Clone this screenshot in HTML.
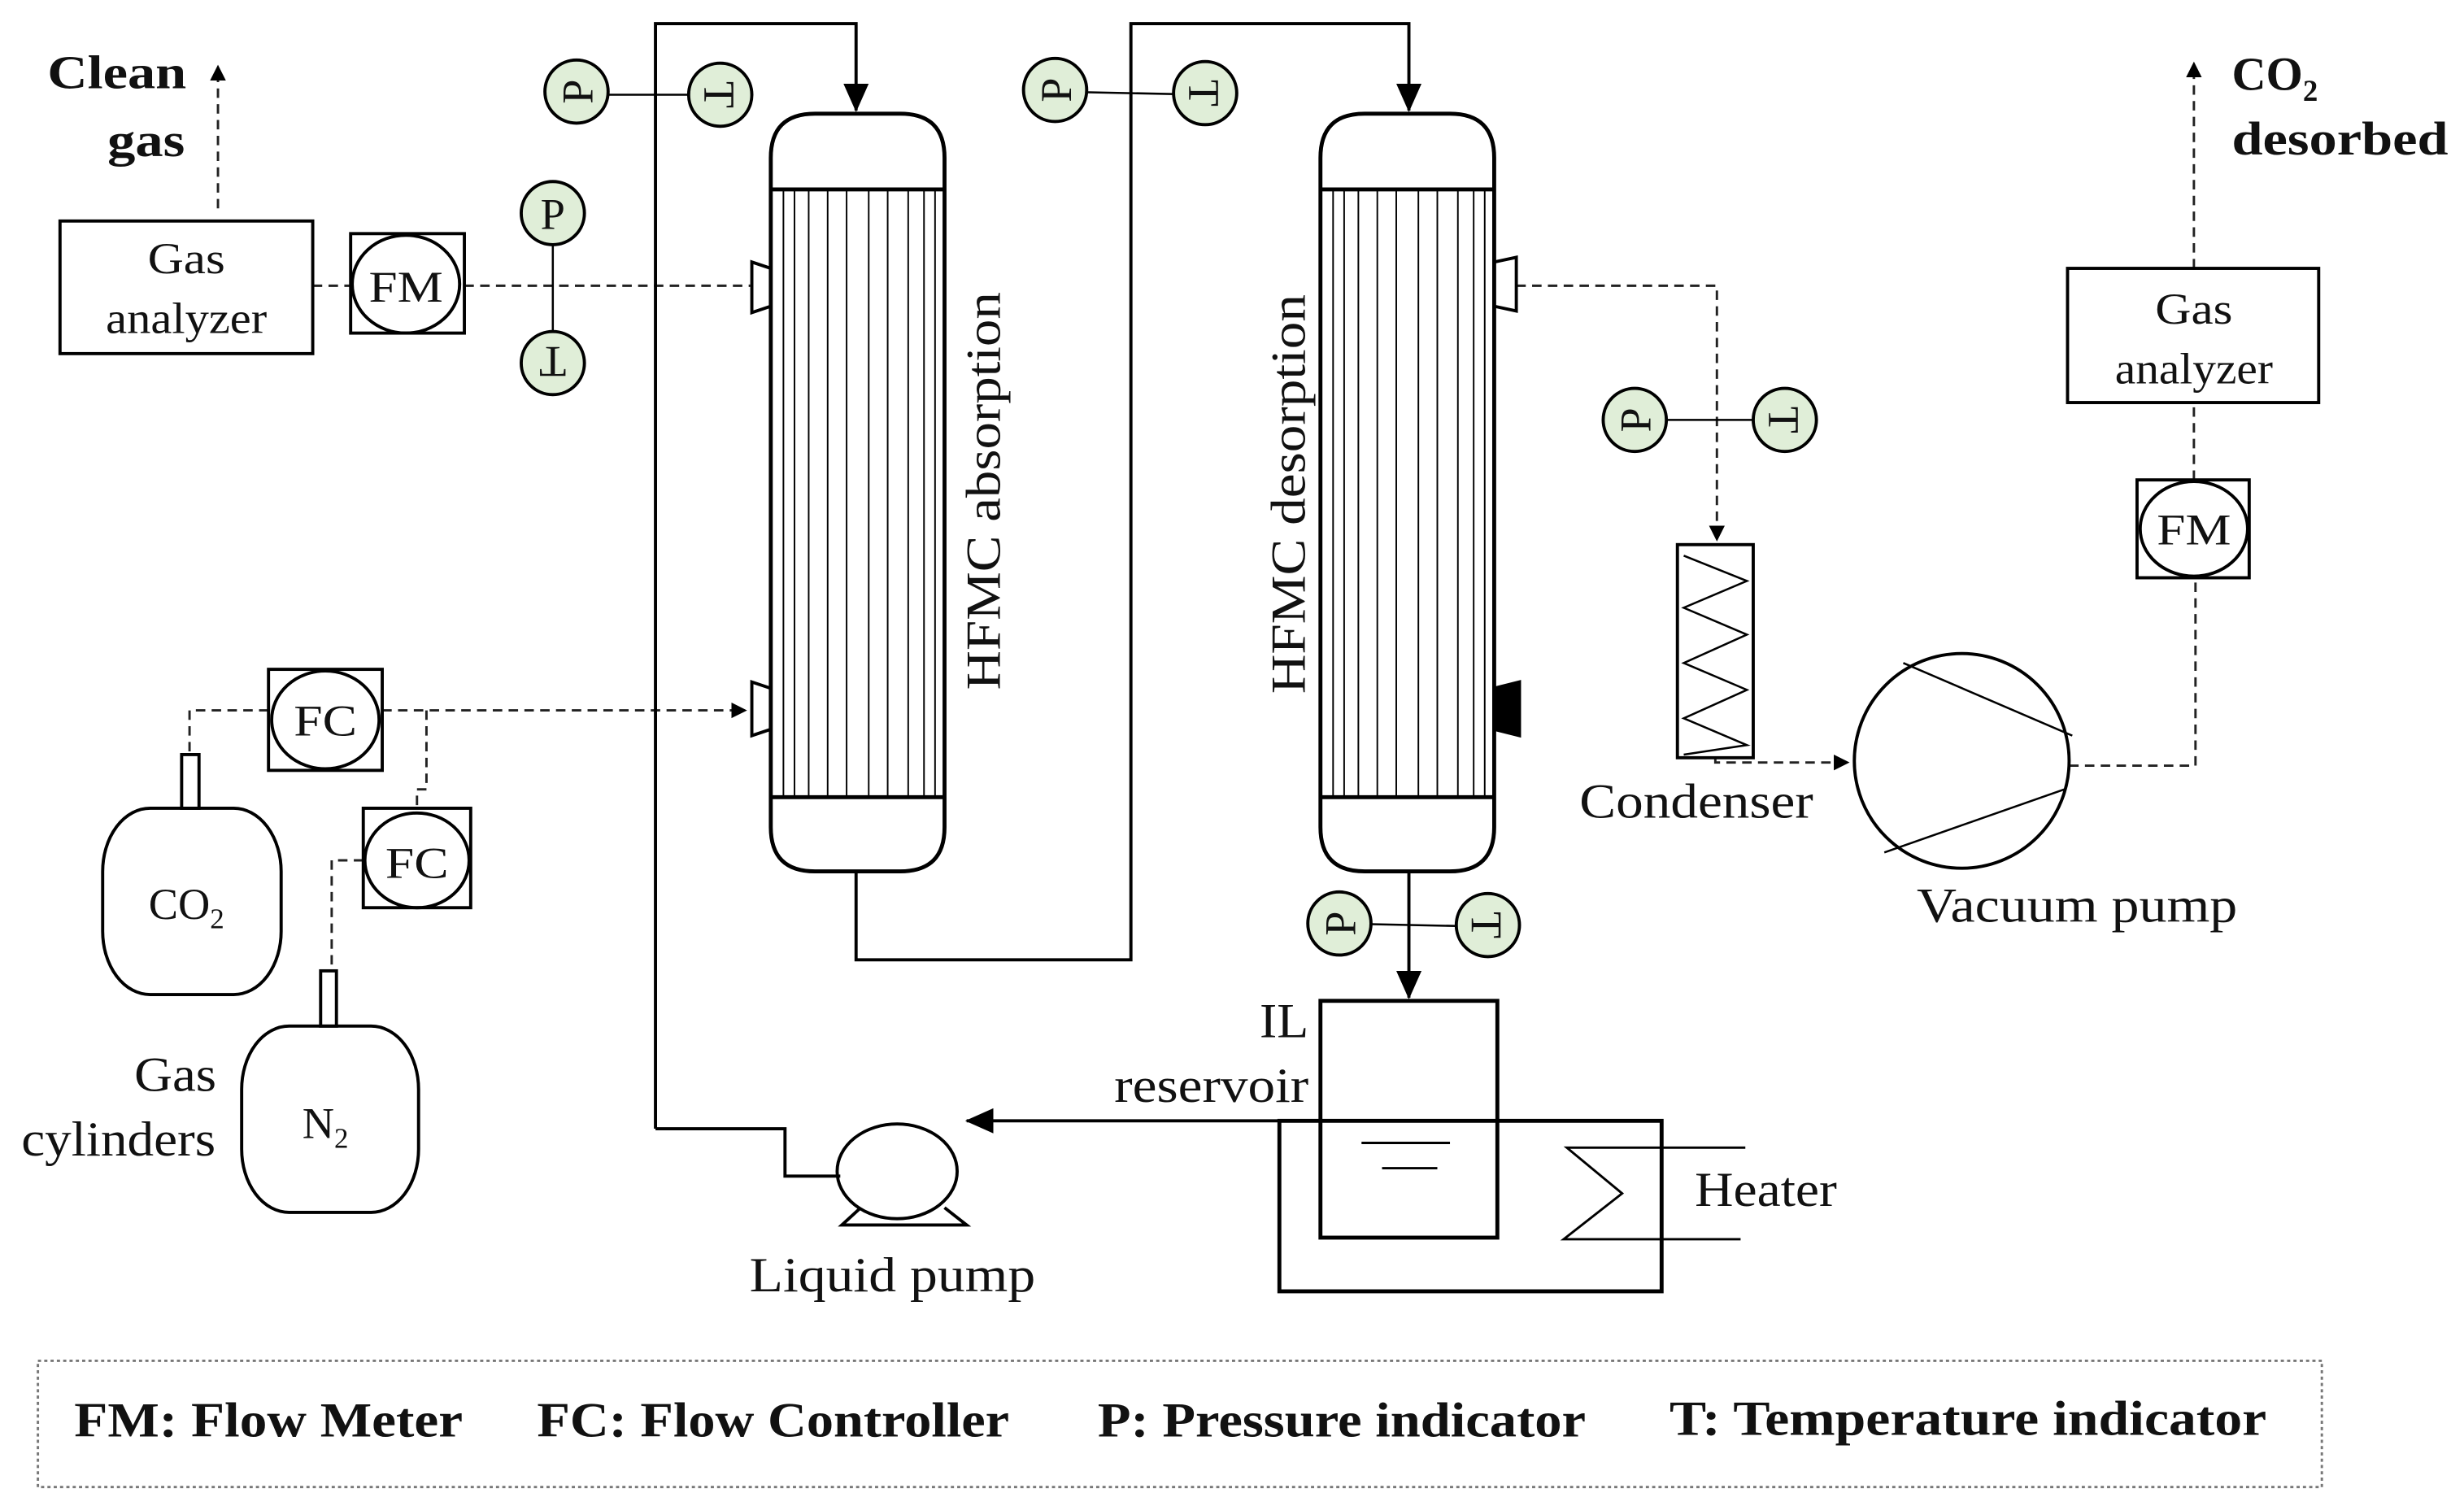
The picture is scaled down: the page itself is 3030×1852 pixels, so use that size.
<!DOCTYPE html>
<html><head><meta charset="utf-8"><style>
html,body{margin:0;padding:0;background:#fff;}
svg{display:block;}
text{font-family:"Liberation Serif",serif;fill:#111;}
.b{font-weight:bold;}
</style></head><body>
<svg width="3030" height="1852" viewBox="0 0 1560 954" preserveAspectRatio="none" xmlns="http://www.w3.org/2000/svg">
<defs>
<marker id="ar" markerWidth="10" markerHeight="10" refX="9" refY="5" orient="auto" markerUnits="userSpaceOnUse"><path d="M0,0 L10,5 L0,10 Z" fill="#000"/></marker>
<marker id="ab" markerWidth="18" markerHeight="16" refX="17" refY="8" orient="auto" markerUnits="userSpaceOnUse"><path d="M0,0 L18,8 L0,16 Z" fill="#000"/></marker>
</defs>
<rect width="1560" height="954" fill="#fff"/>
<g fill="none" stroke="#222" stroke-width="1.5" stroke-dasharray="6,4">
<line x1="138" y1="132" x2="138" y2="42" marker-end="url(#ar)"/>
<line x1="198" y1="181" x2="222" y2="181"/>
<line x1="294" y1="181" x2="475" y2="181"/>
<polyline points="960,181 1087,181 1087,342" marker-end="url(#ar)"/>
<polyline points="1086,480 1086,483 1170,483" marker-end="url(#ar)"/>
<polyline points="1310,485 1390,485 1390,366"/>
<line x1="1389" y1="304" x2="1389" y2="255"/>
<line x1="1389" y1="170" x2="1389" y2="40" marker-end="url(#ar)"/>
<line x1="242" y1="450" x2="472" y2="450" marker-end="url(#ar)"/>
<polyline points="170,450 120,450 120,478"/>
<polyline points="270,450 270,500 264,500 264,512"/>
<polyline points="230,545 210,545 210,615"/>
</g>
<g fill="none" stroke="#000" stroke-width="2">
<polyline points="415,715 415,15 542,15 542,70" marker-end="url(#ab)"/>
<polyline points="415,715 497,715 497,745 532,745"/>
<polyline points="542,552 542,608 716,608 716,15 892,15 892,70" marker-end="url(#ab)"/>
<line x1="892" y1="552" x2="892" y2="632" marker-end="url(#ab)"/>
<line x1="836" y1="710" x2="612" y2="710" marker-end="url(#ab)"/>
</g>
<g stroke="#000" stroke-width="1.3">
<line x1="365" y1="60" x2="456" y2="60"/>
<line x1="668" y1="58" x2="763" y2="60"/>
<line x1="350" y1="135" x2="350" y2="230"/>
<line x1="1035" y1="266" x2="1130" y2="266"/>
<line x1="848" y1="585" x2="942" y2="587"/>
</g>
<g fill="none" stroke="#000" stroke-width="2">
<rect x="38" y="140" width="160" height="84"/>
<rect x="222" y="148" width="72" height="63"/>
<ellipse cx="257" cy="180" rx="34" ry="31"/>
<rect x="1309" y="170" width="159" height="85"/>
<rect x="1353" y="304" width="71" height="62"/>
<ellipse cx="1389" cy="335" rx="34" ry="30"/>
<rect x="170" y="424" width="72" height="64"/>
<ellipse cx="206" cy="456" rx="34" ry="31"/>
<rect x="230" y="512" width="68" height="63"/>
<ellipse cx="264" cy="545" rx="33" ry="30"/>
<rect x="115" y="478" width="11" height="34"/>
<rect x="65" y="512" width="113" height="118" rx="30" ry="40"/>
<rect x="203" y="615" width="10" height="35"/>
<rect x="153" y="650" width="112" height="118" rx="30" ry="40"/>
<path d="M488,524 V100 Q488,72 516,72 H570 Q598,72 598,100 V524 Q598,552 570,552 H516 Q488,552 488,524 Z" stroke-width="2.5"/>
<line x1="488" y1="120" x2="598" y2="120" stroke-width="2.5"/>
<line x1="488" y1="505" x2="598" y2="505" stroke-width="2.5"/>
<path d="M836,524 V100 Q836,72 864,72 H918 Q946,72 946,100 V524 Q946,552 918,552 H864 Q836,552 836,524 Z" stroke-width="2.5"/>
<line x1="836" y1="120" x2="946" y2="120" stroke-width="2.5"/>
<line x1="836" y1="505" x2="946" y2="505" stroke-width="2.5"/>
<path d="M488,170 L476,166 V198 L488,194 Z"/>
<path d="M488,436 L476,432 V466 L488,462 Z"/>
<path d="M946,166 L960,163 V197 L946,194 Z"/>
<path d="M946,436 L962,432 V466 L946,462 Z" fill="#000"/>
<rect x="1062" y="345" width="48" height="135"/>
<polyline points="1066,352 1106,368 1066,385 1106,402 1066,420 1106,437 1066,455 1106,472 1066,478" stroke-width="1.3"/>
<circle cx="1242" cy="482" r="68"/>
<line x1="1205" y1="420" x2="1312" y2="466" stroke-width="1.3"/>
<line x1="1193" y1="540" x2="1307" y2="500" stroke-width="1.3"/>
<rect x="836" y="634" width="112" height="150" stroke-width="2.5"/>
<rect x="810" y="710" width="242" height="108" stroke-width="2.5"/>
<line x1="862" y1="724" x2="918" y2="724" stroke-width="1.5"/>
<line x1="875" y1="740" x2="910" y2="740" stroke-width="1.5"/>
<polyline points="1105,727 992,727 1027,756 990,785 1102,785" stroke-width="1.5"/>
<ellipse cx="568" cy="742" rx="38" ry="30"/>
<path d="M545,765 L533,776 H612 L598,765" />
</g>
<g stroke="#000" stroke-width="1">
<g id="fib">
<line x1="496" y1="120" x2="496" y2="505"/><line x1="503" y1="120" x2="503" y2="505"/>
<line x1="512" y1="120" x2="512" y2="505"/><line x1="524" y1="120" x2="524" y2="505"/>
<line x1="536" y1="120" x2="536" y2="505"/><line x1="550" y1="120" x2="550" y2="505"/>
<line x1="562" y1="120" x2="562" y2="505"/><line x1="575" y1="120" x2="575" y2="505"/>
<line x1="585" y1="120" x2="585" y2="505"/><line x1="592" y1="120" x2="592" y2="505"/>
</g>
<use href="#fib" transform="translate(348,0)"/>
</g>
<g stroke="#000" stroke-width="2" fill="#e0eed8">
<circle cx="365" cy="58" r="20"/><circle cx="456" cy="60" r="20"/>
<circle cx="668" cy="57" r="20"/><circle cx="763" cy="59" r="20"/>
<circle cx="350" cy="135" r="20"/><circle cx="350" cy="230" r="20"/>
<circle cx="1035" cy="266" r="20"/><circle cx="1130" cy="266" r="20"/>
<circle cx="848" cy="585" r="20"/><circle cx="942" cy="586" r="20"/>
</g>
<g font-size="28" text-anchor="middle">
<text transform="translate(365,58) rotate(-90)" y="10">P</text>
<text transform="translate(456,60) rotate(90)" y="10">T</text>
<text transform="translate(668,57) rotate(-90)" y="10">P</text>
<text transform="translate(763,59) rotate(90)" y="10">T</text>
<text x="350" y="145">P</text>
<text transform="translate(350,230) rotate(180)" y="10">T</text>
<text transform="translate(1035,266) rotate(-90)" y="10">P</text>
<text transform="translate(1130,266) rotate(90)" y="10">T</text>
<text transform="translate(848,585) rotate(-90)" y="10">P</text>
<text transform="translate(942,586) rotate(90)" y="10">T</text>
</g>
<g font-size="28" text-anchor="middle" lengthAdjust="spacingAndGlyphs">
<text x="118" y="173" textLength="49" lengthAdjust="spacingAndGlyphs">Gas</text>
<text x="118" y="211" textLength="102" lengthAdjust="spacingAndGlyphs">analyzer</text>
<text x="257" y="191" textLength="47" lengthAdjust="spacingAndGlyphs">FM</text>
<text x="1389" y="205" textLength="49" lengthAdjust="spacingAndGlyphs">Gas</text>
<text x="1389" y="243" textLength="100" lengthAdjust="spacingAndGlyphs">analyzer</text>
<text x="1389" y="345" textLength="47" lengthAdjust="spacingAndGlyphs">FM</text>
<text x="206" y="466" textLength="40" lengthAdjust="spacingAndGlyphs">FC</text>
<text x="264" y="556" textLength="40" lengthAdjust="spacingAndGlyphs">FC</text>
<text x="118" y="582">CO<tspan font-size="18" dy="6">2</tspan></text>
<text x="206" y="721">N<tspan font-size="18" dy="6">2</tspan></text>
<text x="1074" y="518" font-size="31" textLength="148" lengthAdjust="spacingAndGlyphs">Condenser</text>
<text x="1315" y="584" font-size="31" textLength="203" lengthAdjust="spacingAndGlyphs">Vacuum pump</text>
<text x="565" y="818" font-size="31" textLength="181" lengthAdjust="spacingAndGlyphs">Liquid pump</text>
<text x="1118" y="764" font-size="31" textLength="90" lengthAdjust="spacingAndGlyphs">Heater</text>
<text x="813" y="657" font-size="31" textLength="31" lengthAdjust="spacingAndGlyphs">IL</text>
<text x="767" y="698" font-size="31" textLength="123" lengthAdjust="spacingAndGlyphs">reservoir</text>
<text x="111" y="691" font-size="31" textLength="52" lengthAdjust="spacingAndGlyphs">Gas</text>
<text x="75" y="732" font-size="31" textLength="123" lengthAdjust="spacingAndGlyphs">cylinders</text>
<text transform="translate(633,311) rotate(-90)" font-size="31" textLength="252" lengthAdjust="spacingAndGlyphs">HFMC absorption</text>
<text transform="translate(826,313) rotate(-90)" font-size="31" textLength="253" lengthAdjust="spacingAndGlyphs">HFMC desorption</text>
</g>
<g font-size="30">
<text x="30" y="56" class="b" textLength="88" lengthAdjust="spacingAndGlyphs">Clean</text>
<text x="68" y="99" class="b" textLength="49" lengthAdjust="spacingAndGlyphs">gas</text>
<text x="1413" y="57" class="b">CO<tspan font-size="19" dy="7">2</tspan></text>
<text x="1413" y="98" class="b" textLength="137" lengthAdjust="spacingAndGlyphs">desorbed</text>
</g>
<rect x="24" y="862" width="1446" height="80" fill="none" stroke="#777" stroke-width="1.5" stroke-dasharray="2,2"/>
<g font-size="31">
<text x="47" y="910" class="b" textLength="246" lengthAdjust="spacingAndGlyphs">FM: Flow Meter</text>
<text x="340" y="910" class="b" textLength="299" lengthAdjust="spacingAndGlyphs">FC: Flow Controller</text>
<text x="695" y="910" class="b" textLength="309" lengthAdjust="spacingAndGlyphs">P: Pressure indicator</text>
<text x="1057" y="909" class="b" textLength="378" lengthAdjust="spacingAndGlyphs">T: Temperature indicator</text>
</g>
</svg>
</body></html>
